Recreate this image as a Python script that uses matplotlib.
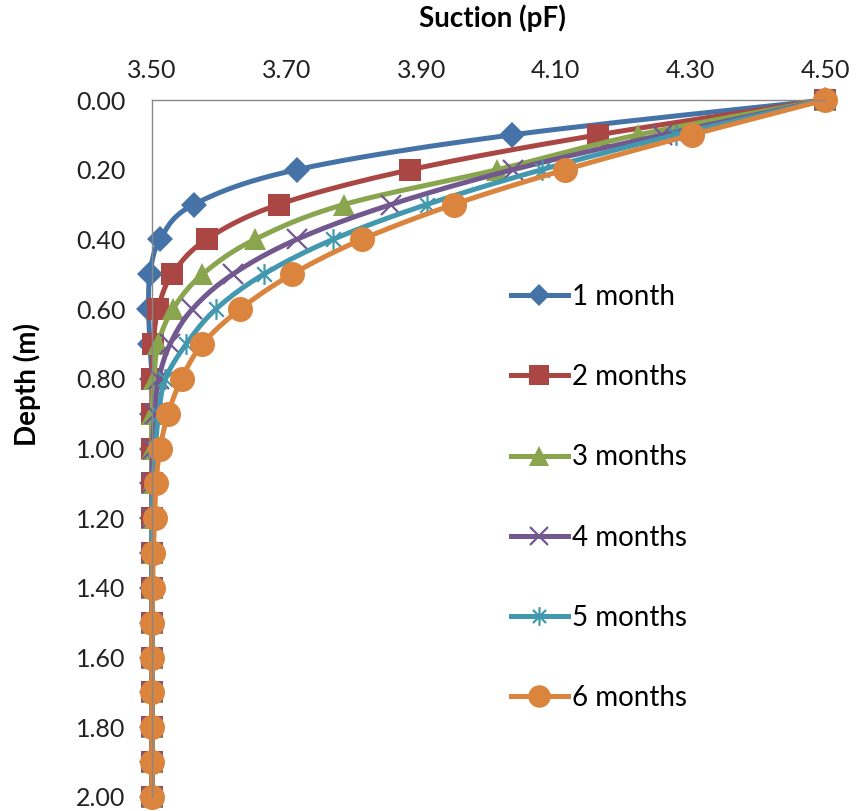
import matplotlib
matplotlib.use("Agg")
import matplotlib.pyplot as plt
import numpy as np
from matplotlib.path import Path

plt.rcParams['font.family'] = ['Lato', 'DejaVu Sans']

depth = [0.0, 0.1, 0.2, 0.3, 0.4, 0.5, 0.6, 0.7, 0.8, 0.9, 1.0,
         1.1, 1.2, 1.3, 1.4, 1.5, 1.6, 1.7, 1.8, 1.9, 2.0]

m1 = [4.50, 4.035, 3.715, 3.562, 3.512, 3.497, 3.495, 3.497, 3.50, 3.50, 3.50,
      3.50, 3.50, 3.50, 3.50, 3.50, 3.50, 3.50, 3.50, 3.50, 3.50]
m2 = [4.50, 4.163, 3.884, 3.688, 3.581, 3.530, 3.509, 3.502, 3.50, 3.50, 3.50,
      3.50, 3.50, 3.50, 3.50, 3.50, 3.50, 3.50, 3.50, 3.50, 3.50]
m3 = [4.50, 4.222, 4.013, 3.785, 3.653, 3.575, 3.531, 3.509, 3.503, 3.50, 3.50,
      3.50, 3.50, 3.50, 3.50, 3.50, 3.50, 3.50, 3.50, 3.50, 3.50]
m4 = [4.50, 4.258, 4.036, 3.855, 3.715, 3.620, 3.560, 3.527, 3.510, 3.504, 3.501,
      3.50, 3.50, 3.50, 3.50, 3.50, 3.50, 3.50, 3.50, 3.50, 3.50]
m5 = [4.50, 4.278, 4.079, 3.908, 3.769, 3.666, 3.595, 3.551, 3.520, 3.510, 3.505,
      3.502, 3.50, 3.50, 3.50, 3.50, 3.50, 3.50, 3.50, 3.50, 3.50]
m6 = [4.50, 4.302, 4.114, 3.948, 3.812, 3.708, 3.631, 3.575, 3.544, 3.524, 3.512,
      3.506, 3.504, 3.502, 3.501, 3.50, 3.50, 3.50, 3.50, 3.50, 3.50]

labels = ['1 month', '2 months', '3 months', '4 months', '5 months', '6 months']
series = [m1, m2, m3, m4, m5, m6]
colors = ['#4572A7', '#AA4643', '#89A54E', '#71588F', '#4198AF', '#DB843D']
xticks = [3.5, 3.7, 3.9, 4.1, 4.3, 4.5]
yticks = [0.0, 0.2, 0.4, 0.6, 0.8, 1.0, 1.2, 1.4, 1.6, 1.8, 2.0]

# excel-like asterisk marker: x plus vertical bar
star = Path([(0, -1), (0, 1), (-0.7, -0.7), (0.7, 0.7), (-0.7, 0.7), (0.7, -0.7)],
            [Path.MOVETO, Path.LINETO, Path.MOVETO, Path.LINETO, Path.MOVETO, Path.LINETO])
markers = ['D', 's', '^', 'x', star, 'o']
msizes = [13, 16, 16, 15, 15, 18]


def smooth(x, y, sx=673.0, sy=348.0, n=12):
    # catmull-rom through the points in screen-like units, like excel smoothed lines
    p = np.column_stack([np.asarray(x) * sx, np.asarray(y) * sy])
    p = np.vstack([p[0], p, p[-1]])
    out = []
    for i in range(1, len(p) - 2):
        p0, p1, p2, p3 = p[i - 1], p[i], p[i + 1], p[i + 2]
        for t in np.linspace(0, 1, n, endpoint=False):
            t2, t3 = t * t, t * t * t
            out.append(0.5 * ((2 * p1) + (-p0 + p2) * t + (2 * p0 - 5 * p1 + 4 * p2 - p3) * t2
                              + (-p0 + 3 * p1 - 3 * p2 + p3) * t3))
    out.append(p[-2])
    out = np.array(out)
    return out[:, 0] / sx, out[:, 1] / sy


fig = plt.figure(figsize=(8.56, 8.11), dpi=100)
ax = fig.add_axes([152 / 856, 1 - 797 / 811, 673 / 856, 697 / 811])

for vals, lab, c, mk, ms in zip(series, labels, colors, markers, msizes):
    sx, sy = smooth(vals, depth)
    ax.plot(sx, sy, color=c, lw=3.6, clip_on=False, solid_capstyle='round')
    mew = 1.6 if (mk == 'x' or mk is star) else 0
    ax.plot(vals, depth, linestyle='none', marker=mk, ms=ms, color=c, mec=c, mew=mew,
            clip_on=False)
    ax.plot([], [], color=c, lw=3.6, marker=mk, ms=ms * 0.9, mec=c, mew=mew, label=lab)

ax.set_xlim(3.5, 4.5)
ax.set_ylim(2.0, 0.0)
ax.set_xticks(xticks)
ax.set_xticklabels(['%.2f' % v for v in xticks])
ax.set_yticks(yticks)
ax.set_yticklabels(['%.2f' % v for v in yticks])
ax.xaxis.tick_top()
ax.tick_params(axis='x', length=0, pad=13, labelsize=18, colors='#222222')
ax.tick_params(axis='y', length=0, pad=19, labelsize=18, colors='#222222')
for s in ['bottom', 'right']:
    ax.spines[s].set_visible(False)
for s in ['top', 'left']:
    ax.spines[s].set_color('#888888')
    ax.spines[s].set_linewidth(1.0)

fig.text(492 / 856, 1 - 18 / 811, 'Suction (pF)', ha='center', va='center',
         fontsize=20, fontweight='bold')
fig.text(27 / 856, 1 - 384 / 811, 'Depth (m)', ha='center', va='center',
         rotation=90, fontsize=20, fontweight='bold')

ax.legend(loc='upper left', bbox_to_anchor=(511 / 856, 1 - 284 / 811),
          bbox_transform=fig.transFigure, frameon=False, fontsize=20,
          labelspacing=1.95, handlelength=2.05, handletextpad=0.15, borderpad=0,
          borderaxespad=0)

fig.savefig('out.png', dpi=100)
